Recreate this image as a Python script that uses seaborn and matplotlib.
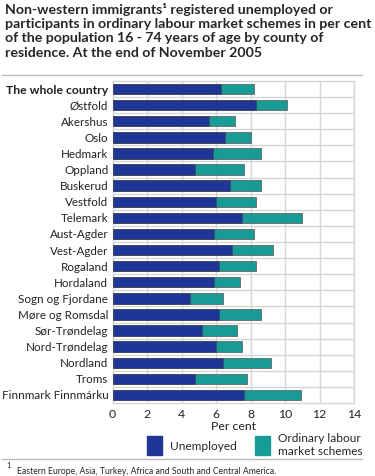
import seaborn as sns
import matplotlib.pyplot as plt
import pandas as pd
from matplotlib.lines import Line2D
from matplotlib.patches import Patch

# Counties and shares (per cent of population 16-74)
counties = ["The whole country", "Østfold", "Akershus", "Oslo", "Hedmark", "Oppland",
            "Buskerud", "Vestfold", "Telemark", "Aust-Agder", "Vest-Agder", "Rogaland",
            "Hordaland", "Sogn og Fjordane", "Møre og Romsdal", "Sør-Trøndelag",
            "Nord-Trøndelag", "Nordland", "Troms", "Finnmark Finnmárku"]
unemployed = [6.3, 8.3, 5.6, 6.5, 5.8, 4.8, 6.8, 6.0, 7.5, 5.9,
              6.9, 6.2, 5.9, 4.5, 6.2, 5.2, 6.0, 6.4, 4.8, 7.6]
schemes = [1.9, 1.8, 1.5, 1.5, 2.8, 2.8, 1.8, 2.3, 3.5, 2.3,
           2.4, 2.1, 1.5, 1.9, 2.4, 2.0, 1.5, 2.8, 3.0, 3.3]

blue = "#1e3796"
teal = "#169b97"
grid = "#d6d6d6"

df = pd.DataFrame({"county": counties, "unemployed": unemployed, "schemes": schemes})
df["total"] = df["unemployed"] + df["schemes"]

sns.set_style("white")
plt.rcParams["font.family"] = ["Lato", "DejaVu Sans"]

W, H = 375, 476
fig = plt.figure(figsize=(W / 100, H / 100), dpi=100, facecolor="white")
ax = fig.add_axes([112.5 / W, 1 - 403 / H, (354 - 112.5) / W, (403 - 81) / H])

sns.barplot(data=df, y="county", x="total", color=teal, width=0.65,
            edgecolor="#666666", linewidth=0.6, saturation=1, ax=ax, zorder=3)
sns.barplot(data=df, y="county", x="unemployed", color=blue, width=0.65,
            edgecolor="#444444", linewidth=0.4, saturation=1, ax=ax, zorder=4)

ax.set_xlim(0, 14)
ax.set_ylim(len(counties) - 0.5, -0.5)
ax.set_xticks(range(0, 15, 2))
ax.set_yticks(range(len(counties)))
ax.set_yticklabels(counties)
ax.set_yticks([i + 0.5 for i in range(len(counties) - 1)], minor=True)
ax.grid(axis="x", color=grid, linewidth=1, zorder=0)
ax.grid(axis="y", which="minor", color=grid, linewidth=1, zorder=0)
ax.set_axisbelow(True)
ax.tick_params(axis="y", which="both", length=0, labelsize=8.4, colors="#222222", pad=3)
ax.tick_params(axis="x", which="both", length=0, labelsize=8.8, colors="#222222", pad=4)
ax.get_yticklabels()[0].set_fontweight("bold")
ax.get_yticklabels()[0].set_fontsize(8.8)
for s in ax.spines.values():
    s.set_color(grid)
    s.set_linewidth(1)
ax.set_ylabel("")
ax.set_xlabel("Per cent", fontsize=8.8, color="#222222", labelpad=1)

fig.text(5 / W, 1 - 3 / H,
         "Non-western immigrants¹ registered unemployed or\n"
         "participants in ordinary labour market schemes in per cent\n"
         "of the population 16 - 74 years of age by county of\n"
         "residence. At the end of November 2005",
         ha="left", va="top", fontsize=10.2, fontweight="bold", linespacing=1.22)
fig.add_artist(Line2D([2 / W, 362 / W], [1 - 75 / H] * 2, color="#bbbbbb", linewidth=1))
fig.add_artist(Line2D([2 / W, 362 / W], [1 - 459 / H] * 2, color="#bbbbbb", linewidth=1))

handles = [Patch(facecolor=blue, edgecolor=blue), Patch(facecolor=teal, edgecolor=teal)]
fig.legend(handles, ["Unemployed", "Ordinary labour\nmarket schemes"], ncol=2,
           loc="center left", bbox_to_anchor=(147 / W, 1 - 445 / H), frameon=False,
           fontsize=8.6, handlelength=1.25, handleheight=2.1, handletextpad=0.7,
           columnspacing=1.5, borderaxespad=0, borderpad=0)

fig.text(6 / W, 1 - 466 / H, "1", fontsize=5.5, ha="left", va="center")
fig.text(17 / W, 1 - 471 / H, "Eastern Europe, Asia, Turkey, Africa and South and Central America.",
         fontsize=6.2, ha="left", va="center")

fig.savefig("out.png", dpi=100, facecolor="white")
plt.close(fig)
